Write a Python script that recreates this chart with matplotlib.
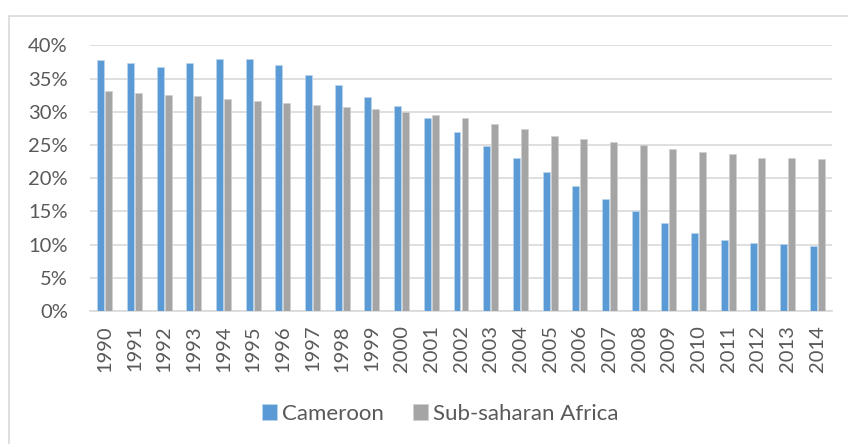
import matplotlib
matplotlib.use('Agg')

import matplotlib.pyplot as plt
import numpy as np
from matplotlib.patches import Rectangle
from matplotlib.ticker import FuncFormatter

# data (percent)
years = [str(y) for y in range(1990, 2015)]
cameroon = [37.8, 37.4, 36.7, 37.4, 37.9, 37.9, 37.0, 35.5, 34.0, 32.2,
            30.8, 29.0, 27.0, 24.9, 23.0, 21.0, 18.8, 16.9, 15.0, 13.3,
            11.8, 10.7, 10.3, 10.1, 9.8]
ssa = [33.1, 32.8, 32.5, 32.3, 31.9, 31.6, 31.3, 31.0, 30.7, 30.4,
       30.0, 29.5, 29.05, 28.2, 27.4, 26.4, 25.9, 25.4, 25.0, 24.4,
       24.0, 23.6, 23.1, 23.0, 22.9]

blue = '#5b9bd5'
grey = '#a5a5a5'
text_col = '#595959'

plt.rcParams['font.family'] = ['Lato', 'DejaVu Sans']

fig = plt.figure(figsize=(8.48, 4.44), dpi=100)
ax = fig.add_axes([90 / 848, 1 - 311 / 444, 742 / 848, 265.7 / 444])

# chart frame (only left/top edges visible in the reference)
fig.patches.append(Rectangle((9 / 848, -0.1), 1.0, 1 - 16 / 444 + 0.1,
                             transform=fig.transFigure, fill=False,
                             edgecolor='#d9d9d9', linewidth=1.2))

x = np.arange(len(years))
w = 0.235
ax.bar(x - 0.135, cameroon, w, color=blue, edgecolor='#bdd7ee', linewidth=0.5,
       label='Cameroon', zorder=3)
ax.bar(x + 0.135, ssa, w, color=grey, edgecolor='#d0d0d0', linewidth=0.5,
       label='Sub-saharan Africa', zorder=3)

ax.set_xlim(-0.5, len(years) - 0.5)
ax.set_ylim(0, 40)
ax.set_yticks(np.arange(0, 41, 5))
ax.yaxis.set_major_formatter(FuncFormatter(lambda v, p: f'{v:.0f}%'))
ax.grid(axis='y', color='#d9d9d9', linewidth=1.2, zorder=0)
ax.set_xticks(x)
ax.set_xticklabels(years, rotation=90)
for s in ax.spines.values():
    s.set_visible(False)
ax.spines['bottom'].set_visible(True)
ax.spines['bottom'].set_color('#d9d9d9')
ax.spines['bottom'].set_linewidth(1.2)
ax.tick_params(axis='both', length=0, colors=text_col, labelsize=14.5)
ax.tick_params(axis='x', pad=10)
ax.tick_params(axis='y', pad=16)

fig.legend(loc='center', bbox_to_anchor=(440 / 848, 1 - 414 / 444), ncol=2,
           frameon=False, fontsize=16, labelcolor=text_col,
           handlelength=0.7, handleheight=0.7, handletextpad=0.2,
           columnspacing=1.3)

fig.savefig('out.png', dpi=100)
